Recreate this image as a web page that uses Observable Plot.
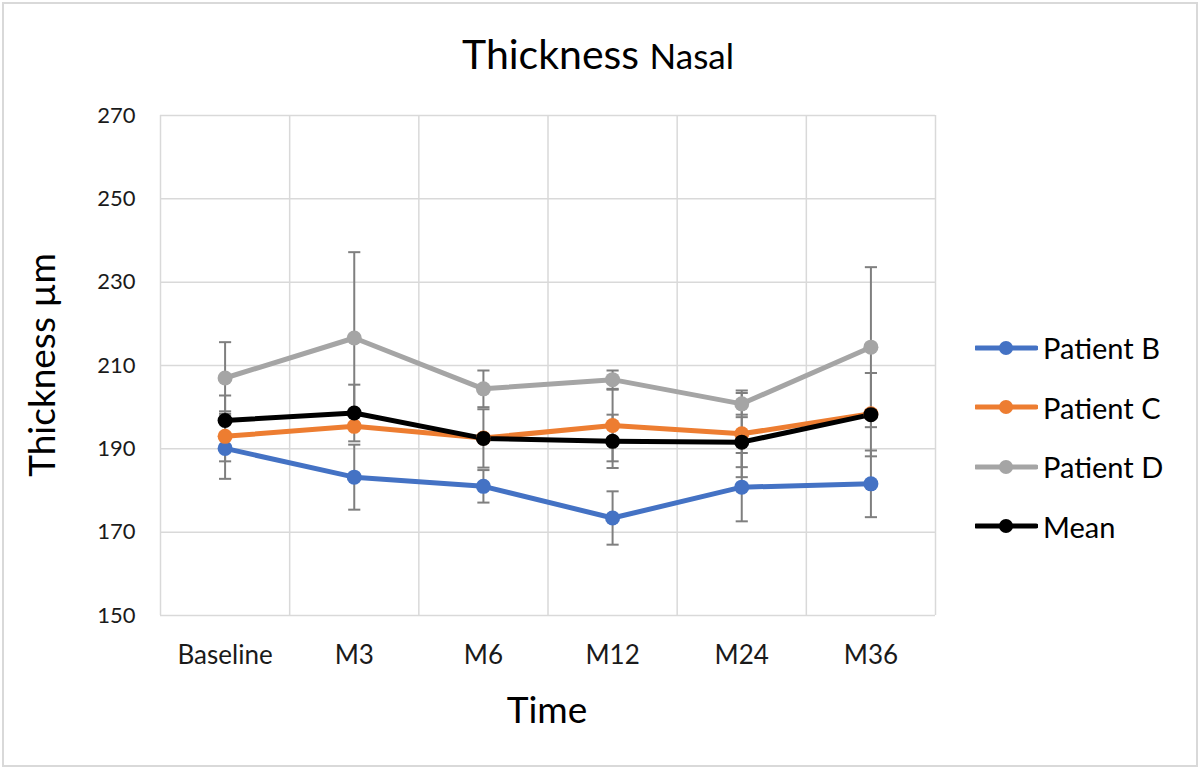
<!DOCTYPE html>
<html>
<head>
<meta charset="utf-8">
<script src="https://cdn.jsdelivr.net/npm/d3@7"></script>
<script src="https://cdn.jsdelivr.net/npm/@observablehq/plot@0.6"></script>
<style>
  html, body { margin: 0; padding: 0; background: #fff; }
  #wrap { position: relative; width: 1200px; height: 769px; font-family: Lato, "Open Sans", sans-serif; color: #000; overflow: hidden; }
  #frame { position: absolute; left: 2px; top: 2px; width: 1192px; height: 761px; border: 2px solid #d9d9d9; pointer-events: none; }
  #title { position: absolute; left: 0; width: 1196px; top: 30px; text-align: center; font-size: 41px; line-height: 48px; }
  #title .sub { font-size: 35px; }
  #ylab { position: absolute; left: 40px; top: 365px; transform: translate(-50%, -50%) rotate(-90deg); font-size: 37px; white-space: nowrap; }
  #xlab { position: absolute; left: 547px; top: 708px; transform: translate(-50%, -50%); font-size: 37px; }
  #legend { position: absolute; left: 975px; top: 318px; }
  .item { display: flex; align-items: center; height: 59.5px; font-size: 29px; }
  .item svg { margin-right: 5px; }
  #chart { position: absolute; left: 0; top: 0; }
</style>
</head>
<body>
<div id="wrap">
  <div id="chart"></div>
  <div id="title">Thickness <span class="sub">Nasal</span></div>
  <div id="ylab">Thickness µm</div>
  <div id="xlab">Time</div>
  <div id="legend"></div>
  <div id="frame"></div>
</div>
<script>
const categories = ["Baseline", "M3", "M6", "M12", "M24", "M36"];
const seriesNames = ["Patient B", "Patient C", "Patient D", "Mean"];
const seriesColors = ["#4472C4", "#ED7D31", "#A5A5A5", "#000000"];

const patientB = [190.1, 183.2, 181.0, 173.4, 180.8, 181.6];
const patientC = [193.0, 195.4, 192.6, 195.6, 193.6, 198.4];
const patientD = [207.0, 216.6, 204.4, 206.6, 200.8, 214.4];
const meanVals = [196.8, 198.6, 192.5, 191.8, 191.6, 198.2];

const errB = [7.3, 7.8, 3.9, 6.4, 8.2, 8.0];
const errC = [6.0, 0, 0, 8.6, 10.4, 0];
const errD = [8.6, 20.6, 4.4, 2.2, 2.6, 19.2];
const errMean = [6.0, 6.8, 7.0, 6.4, 6.0, 10.0];

const yTicks = [150, 170, 190, 210, 230, 250, 270];

const allValues = [patientB, patientC, patientD, meanVals];
const allErr = [errB, errC, errD, errMean];

const rows = [];
seriesNames.forEach((s, si) => {
  categories.forEach((c, i) => {
    rows.push({series: s, i, cat: c, value: allValues[si][i], err: allErr[si][i]});
  });
});
const errRows = rows.filter(d => d.err > 0);

const W = 1200, H = 769;
const plotLeft = 160, plotRight = 935, plotTop = 115, plotBottom = 615;
const capHalf = 0.047; // cap half-width in category units

const bounds = d3.range(categories.length + 1).map(i => i - 0.5);
const color = {domain: seriesNames, range: seriesColors};

const chart = Plot.plot({
  width: W,
  height: H,
  marginLeft: plotLeft,
  marginRight: W - plotRight,
  marginTop: plotTop,
  marginBottom: H - plotBottom,
  style: {fontFamily: "Lato, 'Open Sans', sans-serif", background: "transparent", color: "#1a1a1a"},
  x: {type: "linear", domain: [-0.5, categories.length - 0.5]},
  y: {domain: [150, 270]},
  color,
  marks: [
    Plot.ruleY(yTicks, {stroke: "#d9d9d9", strokeWidth: 1.5}),
    Plot.ruleX(bounds, {stroke: "#d9d9d9", strokeWidth: 1.5}),
    Plot.axisY({ticks: yTicks, tickSize: 0, tickPadding: 25, fontSize: 22, label: null}),
    Plot.axisX({ticks: d3.range(categories.length), tickFormat: i => categories[i], tickSize: 0, tickPadding: 30, fontSize: 26, label: null}),
    // error bars
    Plot.link(errRows, {x1: "i", x2: "i", y1: d => d.value - d.err, y2: d => d.value + d.err, stroke: "#7f7f7f", strokeWidth: 2}),
    Plot.link(errRows, {x1: d => d.i - capHalf, x2: d => d.i + capHalf, y1: d => d.value + d.err, y2: d => d.value + d.err, stroke: "#7f7f7f", strokeWidth: 2}),
    Plot.link(errRows, {x1: d => d.i - capHalf, x2: d => d.i + capHalf, y1: d => d.value - d.err, y2: d => d.value - d.err, stroke: "#7f7f7f", strokeWidth: 2}),
    // lines
    Plot.line(rows, {x: "i", y: "value", z: "series", stroke: "series", strokeWidth: 5, strokeLinejoin: "round"}),
    Plot.dot(rows, {x: "i", y: "value", fill: "series", r: 7.5, stroke: null})
  ]
});
document.getElementById("chart").appendChild(chart);

// legend
const legend = d3.select("#legend");
seriesNames.forEach((s, si) => {
  const item = legend.append("div").attr("class", "item");
  const svg = item.append("svg").attr("width", 63).attr("height", 20);
  svg.append("line").attr("x1", 1).attr("x2", 61).attr("y1", 10).attr("y2", 10)
    .attr("stroke", seriesColors[si]).attr("stroke-width", 5).attr("stroke-linecap", "round");
  svg.append("circle").attr("cx", 31).attr("cy", 10).attr("r", 7).attr("fill", seriesColors[si]);
  item.append("span").text(s);
});
</script>
</body>
</html>
